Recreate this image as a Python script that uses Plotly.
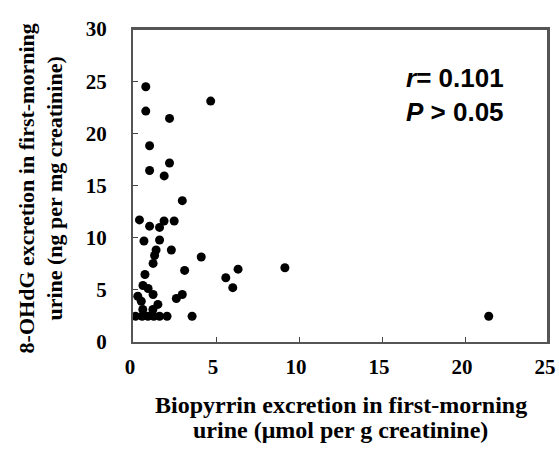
import plotly.graph_objects as go

# Biopyrrin (umol/g creatinine) vs 8-OHdG (ng/mg creatinine)
biopyrrin = [
    0.77, 0.77, 2.20, 4.68, 1.00, 2.20, 1.00, 1.88, 2.97,
    0.39, 1.00, 1.60, 1.87, 2.48, 0.66, 1.60, 1.39, 2.31, 1.30,
    4.11, 1.21, 3.11, 6.33, 5.59, 6.01, 9.15, 0.72, 0.60, 0.91,
    0.29, 1.21, 0.50, 2.61, 2.97, 1.50, 1.20, 0.59,
    0.15, 0.55, 0.90, 1.25, 1.60, 2.05, 3.56, 21.43,
]
ohdg = [
    24.47, 22.13, 21.43, 23.09, 18.81, 17.16, 16.44, 15.92, 13.55,
    11.70, 11.10, 10.98, 11.60, 11.60, 9.68, 9.78, 8.82, 8.82, 8.29,
    8.15, 7.53, 6.86, 6.98, 6.16, 5.21, 7.12, 6.47, 5.42, 5.13,
    4.39, 4.55, 3.91, 4.17, 4.55, 3.60, 3.12, 3.12,
    2.47, 2.47, 2.47, 2.47, 2.47, 2.47, 2.47, 2.47,
]
x_ticks = [0, 5, 10, 15, 20, 25]
y_ticks = [0, 5, 10, 15, 20, 25, 30]
x_title = ["Biopyrrin excretion in first-morning", "urine (μmol per g creatinine)"]
y_title = ["8-OHdG excretion in first-morning", "urine (ng per mg creatinine)"]

serif = dict(family="Liberation Serif, Times New Roman, serif", color="black", weight="bold")
frame = dict(color="#555555", width=2)

fig = go.Figure()
fig.add_trace(go.Scatter(
    x=biopyrrin, y=ohdg, mode="markers",
    marker=dict(color="black", size=9),
    showlegend=False,
))

axis_common = dict(
    showgrid=False, zeroline=False, showline=True, mirror=True,
    linecolor=frame["color"], linewidth=frame["width"],
    ticks="inside", ticklen=5, tickcolor="#444", tickwidth=1,
    tickfont=dict(size=21, **serif),
)
fig.update_xaxes(range=[0, 25], tickvals=x_ticks, ticklabelstandoff=5,
                 ticklabelshift=-3, **axis_common)
fig.update_yaxes(range=[0, 30], tickvals=y_ticks, ticklabelstandoff=20, **axis_common)

# plot frame (top and right sides)
fig.add_shape(type="line", xref="paper", yref="paper", x0=0, y0=1, x1=1, y1=1,
              line=frame, layer="above")
fig.add_shape(type="line", xref="paper", yref="paper", x0=1, y0=0, x1=1, y1=1,
              line=frame, layer="above")

# axis titles, one annotation per line to keep the tight line spacing
for text, yy in zip(x_title, [-0.2, -0.28]):
    fig.add_annotation(xref="paper", yref="paper", x=0.5, y=yy, text=text,
                       showarrow=False, xanchor="center", yanchor="middle",
                       font=dict(size=24, **serif))
for text, xx in zip(y_title, [-0.256, -0.188]):
    fig.add_annotation(xref="paper", yref="paper", x=xx, y=0.49, text=text,
                       showarrow=False, xanchor="center", yanchor="middle",
                       textangle=-90, font=dict(size=22, **serif))

fig.add_annotation(
    xref="paper", yref="paper", x=0.652, y=0.79, xanchor="left", yanchor="middle",
    text="<i>r</i>= 0.101<br><i>P</i> > 0.05", showarrow=False, align="left",
    font=dict(family="Liberation Sans, Arial, sans-serif", size=26, color="black", weight="bold"),
)

fig.update_layout(
    width=559, height=467,
    margin=dict(l=133, r=11, t=29, b=125, autoexpand=False),
    plot_bgcolor="white", paper_bgcolor="white",
)

fig.write_html("out.html", config={"displayModeBar": False},
               post_script="document.body.style.margin='0';")
